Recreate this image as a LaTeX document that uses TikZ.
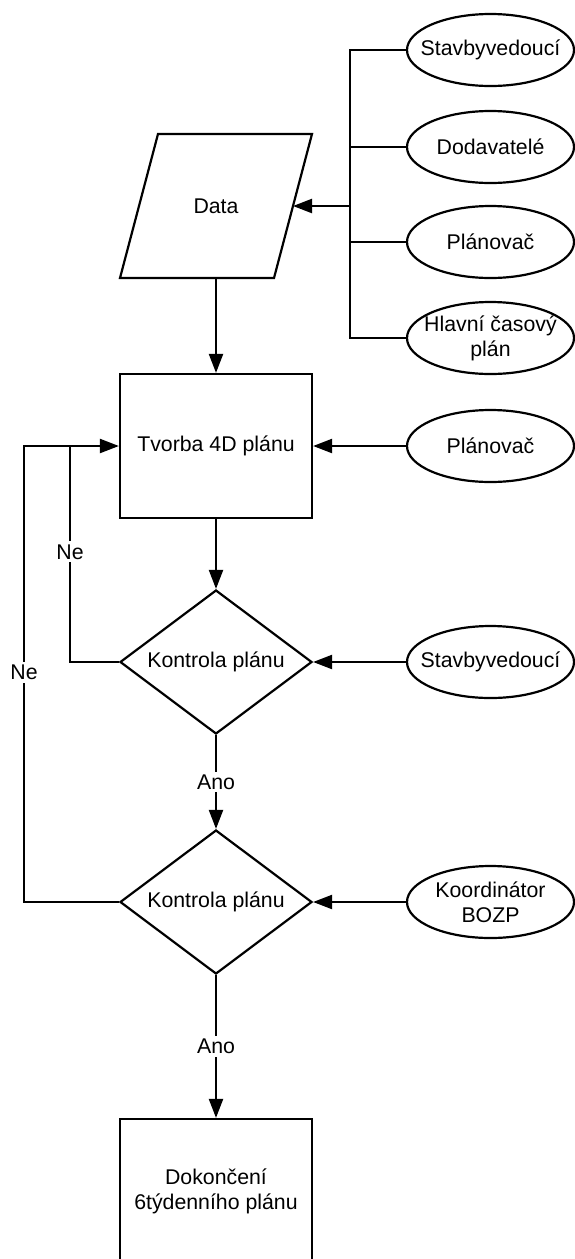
\documentclass[tikz,border=0pt]{standalone}
\usepackage{fontspec}
\setmainfont{Liberation Sans}
\usetikzlibrary{shapes.geometric,arrows.meta}
\begin{document}
\begin{tikzpicture}[x=1pt,y=-1pt,
  every node/.style={font=\fontsize{21.3}{25}\selectfont, align=center},
  line/.style={line width=2.2pt},
  arr/.style={line width=2.2pt,-{Triangle[length=19pt,width=14pt]}},
  proc/.style={draw,line width=2.2pt,rectangle,minimum width=192pt,minimum height=144pt,inner sep=0pt},
  dec/.style={draw,line width=2.2pt,diamond,shape aspect=1.333,minimum width=192pt,minimum height=144pt,inner sep=0pt},
  ell/.style={draw,line width=2.2pt,ellipse,minimum width=167pt,minimum height=72pt,inner xsep=-40pt,inner ysep=-12pt},
  lbl/.style={fill=white,inner sep=3pt}]
\useasboundingbox (0,0) rectangle (574,1259);

% sources of the input data
\node[ell] (e1) at (490.5,50) {Stavbyvedoucí};
\node[ell] (e2) at (490.5,147) {Dodavatelé};
\node[ell] (e3) at (490.5,242) {Plánovač};
\node[ell] (e4) at (490.5,338) {Hlavní časový\\plán};

% input/output parallelogram
\coordinate (dtl) at (158,134);
\coordinate (dtr) at (312,134);
\coordinate (dbr) at (274,278);
\coordinate (dbl) at (120,278);
\draw[line,line join=miter] (dtl) -- (dtr) -- (dbr) -- (dbl) -- cycle;
\node (data) at (216,206) {Data};
\coordinate (dright) at (293,206);
\coordinate (dbottom) at (216,278);

% main flow
\node[proc] (tv) at (216,446) {Tvorba 4D plánu};
\node[dec] (k1) at (216,662) {Kontrola plánu};
\node[dec] (k2) at (216,902) {Kontrola plánu};
\node[proc] (fin) at (216,1191) {Dokončení\\6týdenního plánu};

% participants of the checks
\node[ell] (e5) at (490.5,446) {Plánovač};
\node[ell] (e6) at (490.5,662) {Stavbyvedoucí};
\node[ell] (e7) at (490.5,902) {Koordinátor\\BOZP};

% collecting bus for the data sources
\coordinate (bt) at (350,50);
\coordinate (bb) at (350,338);
\coordinate (bm) at (350,206);
\draw[line] (e1.west) -- (bt) -- (bb) -- (e4.west);
\draw[line] (e2.west) -- (e2.west -| bt);
\draw[line] (e3.west) -- (e3.west -| bt);
\draw[arr] (bm) -- (dright);

% main arrows
\draw[arr] (dbottom) -- (tv.north);
\draw[arr] (e5.west) -- (tv.east);
\draw[arr] (tv.south) -- (k1.north);
\draw[arr] (e6.west) -- (k1.east);
\draw[arr] (k1.south) -- node[lbl]{Ano} (k2.north);
\draw[arr] (e7.west) -- (k2.east);
\draw[arr] (k2.south) -- node[lbl]{Ano} (fin.north);

% feedback loops
\coordinate (jin) at (70,446);
\coordinate (jout) at (24,446);
\draw[line] (k1.west) -| node[lbl,pos=0.755]{Ne} (jin);
\draw[arr] (k2.west) -| node[lbl,pos=0.752]{Ne} (jout) -- (tv.west);
\end{tikzpicture}
\end{document}
